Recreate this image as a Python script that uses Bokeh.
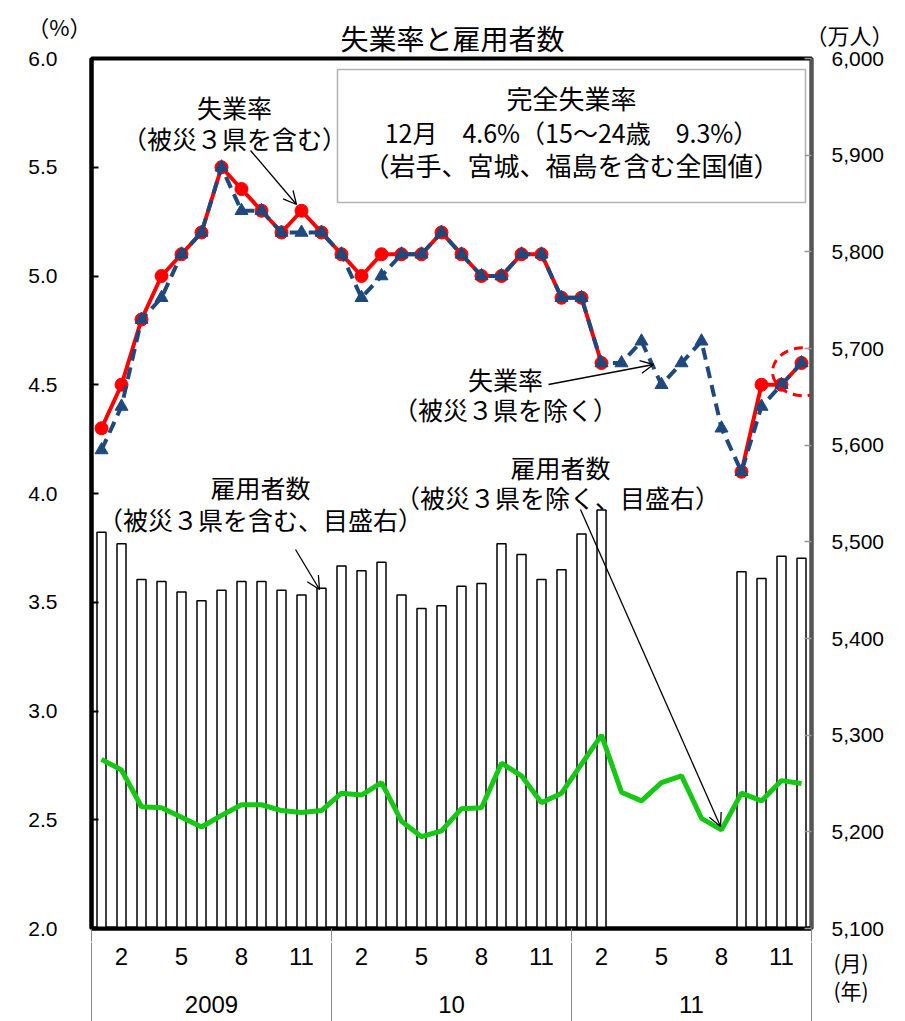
import math
from bokeh.plotting import figure
from bokeh.layouts import column
from bokeh.models import (Range1d, LinearAxis, FixedTicker, PrintfTickFormatter,
                          NumeralTickFormatter, CustomJSTickFormatter, Label, Arrow,
                          OpenHead, BoxAnnotation)
from bokeh.core.properties import value
from bokeh.embed import file_html
from bokeh.resources import INLINE

nan = float("nan")

# ---------------- data ----------------
years = ["2009", "10", "11"]
month_numbers = list(range(1, 13)) * 3
month_tick_labels = [2, 5, 8, 11]
unit_labels = ["(月)", "(年)"]
left_unit = "（%）"
right_unit = "（万人）"
title_text = "失業率と雇用者数"

# 完全失業率（被災３県を含む） %
rate_incl = [4.3, 4.5, 4.8, 5.0, 5.1, 5.2, 5.5, 5.4, 5.3, 5.2, 5.3, 5.2,
             5.1, 5.0, 5.1, 5.1, 5.1, 5.2, 5.1, 5.0, 5.0, 5.1, 5.1, 4.9,
             4.9, 4.6, nan, nan, nan, nan, nan, nan, 4.1, 4.5, 4.5, 4.6]
# 完全失業率（被災３県を除く） %
rate_excl = [4.2, 4.4, 4.8, 4.9, 5.1, 5.2, 5.5, 5.3, 5.3, 5.2, 5.2, 5.2,
             5.1, 4.9, 5.0, 5.1, 5.1, 5.2, 5.1, 5.0, 5.0, 5.1, 5.1, 4.9,
             4.9, 4.6, 4.6, 4.7, 4.5, 4.6, 4.7, 4.3, 4.1, 4.4, 4.5, 4.6]
# 雇用者数（被災３県を含む） 万人
emp_incl = [5510, 5498, 5461, 5459, 5448, 5439, 5450, 5459, 5459, 5450, 5445, 5452,
            5475, 5470, 5479, 5445, 5431, 5434, 5454, 5457, 5498, 5487, 5461, 5471,
            5508, 5533, nan, nan, nan, nan, nan, nan, 5469, 5462, 5485, 5483]
# 雇用者数（被災３県を除く） 万人
emp_excl = [5275, 5264, 5226, 5225, 5215, 5205, 5217, 5228, 5228, 5222, 5220, 5222,
            5240, 5238, 5251, 5211, 5195, 5201, 5224, 5225, 5271, 5258, 5230, 5240,
            5270, 5300, 5241, 5232, 5251, 5258, 5214, 5202, 5240, 5232, 5253, 5250]

left_ticks = [2.0, 2.5, 3.0, 3.5, 4.0, 4.5, 5.0, 5.5, 6.0]
right_ticks = [5100, 5200, 5300, 5400, 5500, 5600, 5700, 5800, 5900, 6000]

# ---------------- layout constants ----------------
W = 905
FL, FT, FW, FH = 91, 58, 720, 870
FB = FT + FH
TOP_H = FT                   # header strip reaches the frame top
BT = 14                      # top border of main plot (overlaps the header)
BB = 14                      # bottom border of main plot
BOT_TOP = FB + BB
BOT_H = 1021 - BOT_TOP

def X(px):
    return (px - FL) / FW * 36.0
def Y(py):
    return 6.0 - (py - FT) / FH * 4.0

JP = "Noto Sans CJK JP"
NUM = "Liberation Sans"
NARROW = "Liberation Sans Narrow, Liberation Sans"

def bare(fig):
    fig.grid.visible = False
    fig.outline_line_color = None
    fig.background_fill_color = "white"
    fig.border_fill_color = "white"
    return fig

def strip_axis(ax, ticks, labels, standoff, font, size):
    ax.ticker = FixedTicker(ticks=ticks)
    ax.major_label_overrides = dict(zip(ticks, labels))
    ax.major_tick_line_color = None
    ax.minor_tick_line_color = None
    ax.major_tick_in = 0
    ax.major_tick_out = 0
    ax.major_label_standoff = standoff
    ax.major_label_text_font = font
    ax.major_label_text_font_size = size
    ax.major_label_text_color = "black"

# ---------------- header strip ----------------
top = bare(figure(width=W, height=TOP_H, x_range=Range1d(0, 36), y_range=Range1d(TOP_H, 0),
                  x_axis_location=None, y_axis_location="left",
                  min_border_left=FL, min_border_right=W - FL - FW,
                  min_border_top=0, min_border_bottom=0,
                  output_backend="svg", toolbar_location=None))
strip_axis(top.yaxis[0], [25], [left_unit], 0, JP, "22px")
top.yaxis[0].axis_line_color = None
tr = LinearAxis()
strip_axis(tr, [33], [right_unit], -6, JP, "22px")
tr.axis_line_color = None
top.add_layout(tr, "right")
top.text(x=[X(452)], y=[37], text=[title_text], text_font=value(JP),
         text_font_size=value("28px"), text_align="center", text_baseline="middle",
         text_color="black")

# ---------------- main plot ----------------
p = figure(frame_width=FW, frame_height=FH,
           x_range=Range1d(0, 36), y_range=Range1d(2.0, 6.0),
           output_backend="svg", toolbar_location=None,
           min_border_left=FL, min_border_top=BT, min_border_right=W - FL - FW,
           min_border_bottom=BB, margin=(-BT, 0, 0, 0))
bare(p)
p.border_fill_alpha = 0.0
p.extra_y_ranges = {"right": Range1d(5100, 6000)}
p.outline_line_color = "black"
p.outline_line_width = 4

ya = p.yaxis[0]
ya.ticker = FixedTicker(ticks=left_ticks)
ya.formatter = PrintfTickFormatter(format="%.1f")
ya.major_tick_in = 7
ya.major_tick_out = 0
ya.minor_tick_line_color = None
ya.major_tick_line_width = 2
ya.axis_line_width = 4
ya.axis_line_color = "black"
ya.major_label_standoff = 34
ya.major_label_text_font = NUM
ya.major_label_text_font_size = "21px"
ya.major_label_text_color = "black"

ra = LinearAxis(y_range_name="right", ticker=FixedTicker(ticks=right_ticks),
                formatter=NumeralTickFormatter(format="0,0"))
ra.major_tick_in = 7
ra.major_tick_out = 0
ra.minor_tick_line_color = None
ra.major_tick_line_color = "#999999"
ra.major_tick_line_width = 1.5
ra.axis_line_color = "#555555"
ra.axis_line_width = 3
ra.major_label_standoff = 20
ra.major_label_text_font = NUM
ra.major_label_text_font_size = "21px"
ra.major_label_text_color = "black"
p.add_layout(ra, "right")

xa = p.xaxis[0]
xa.ticker = FixedTicker(ticks=[0, 12, 24, 36])
xa.formatter = CustomJSTickFormatter(code="return ''")
xa.major_tick_in = 0
xa.major_tick_out = 13
xa.major_tick_line_color = "#888888"
xa.major_tick_line_width = 1
xa.minor_tick_line_color = None
xa.axis_line_width = 4
xa.axis_line_color = "black"
xa.major_label_standoff = 0
xa.major_label_text_font_size = "1px"

xs = [i + 0.5 for i in range(36)]

bx = [x for x, v in zip(xs, emp_incl) if not math.isnan(v)]
bt = [v for v in emp_incl if not math.isnan(v)]
p.vbar(x=bx, top=bt, bottom=5100, width=0.45, y_range_name="right",
       fill_color="white", line_color="black", line_width=1.5)

p.line(xs, emp_excl, y_range_name="right", line_color="#14C814", line_width=5)

p.line(xs, rate_incl, line_color="#FF0000", line_width=4)
rx = [x for x, v in zip(xs, rate_incl) if not math.isnan(v)]
ry = [v for v in rate_incl if not math.isnan(v)]
p.scatter(rx, ry, marker="circle", size=13, fill_color="#FF0000", line_color="#FF0000")

p.line(xs, rate_excl, line_color="#1F497D", line_width=4, line_dash="12 7")
p.scatter(xs, rate_excl, marker="triangle", size=13, fill_color="#1F497D",
          line_color="#1F497D")

# highlight ellipse around the latest point
p.ellipse(x=[xs[-1] + 0.1], y=[rate_incl[-1] - 0.04], width=62, height=48,
          width_units="screen", height_units="screen", fill_color=None,
          line_color="#FF0000", line_width=3, line_dash="9 6")

def lab(text, px, py, size):
    p.add_layout(Label(x=X(px), y=Y(py), text=text, text_font=JP,
                       text_font_size=f"{size}px", text_align="center",
                       text_baseline="middle", text_color="black"))

p.add_layout(BoxAnnotation(left=X(337), right=X(805), top=Y(69), bottom=Y(202),
                           fill_color="white", fill_alpha=1.0,
                           line_color="black", line_width=1.5))
lab("完全失業率", 571, 97, 26)
lab("12月　4.6%（15～24歳　9.3%）", 571, 131, 25)
lab("（岩手、宮城、福島を含む全国値）", 571, 164, 26)

lab("失業率", 234, 106, 25)
lab("（被災３県を含む）", 234, 137, 25)
lab("失業率", 505, 378, 25)
lab("（被災３県を除く）", 505, 408, 25)
lab("雇用者数", 260, 486, 25)
lab("（被災３県を含む、目盛右）", 260, 518, 25)
lab("雇用者数", 560, 466, 25)
lab("（被災３県を除く、目盛右）", 557, 496, 25)

def arrow(x0, y0, x1, y1):
    p.add_layout(Arrow(end=OpenHead(size=13, line_width=1.3, line_color="black"),
                       x_start=X(x0), y_start=Y(y0), x_end=X(x1), y_end=Y(y1),
                       line_width=1.3, line_color="black"))

arrow(250, 150, 296, 204)
arrow(548, 384, 653, 364)
arrow(295, 549, 319, 589)
arrow(580, 509, 720, 826)

# ---------------- footer strip (month / year axis) ----------------
bot = bare(figure(width=W, height=BOT_H, x_range=Range1d(0, 36), y_range=Range1d(BOT_H, 0),
                  x_axis_location=None, y_axis_location="left",
                  min_border_left=FL, min_border_right=W - FL - FW,
                  min_border_top=0, min_border_bottom=0,
                  output_backend="svg", toolbar_location=None))
strip_axis(bot.yaxis[0], [], [], 0, NUM, "1px")
bot.yaxis[0].axis_line_color = "#888888"
bot.yaxis[0].axis_line_width = 1
br = LinearAxis()
strip_axis(br, [961 - BOT_TOP, 989 - BOT_TOP], unit_labels, 22,
           "Liberation Sans Narrow, Noto Sans CJK JP", "21px")
br.axis_line_color = "#888888"
br.axis_line_width = 1
bot.add_layout(br, "right")

seps = [12, 24]
bot.segment(x0=seps, y0=[0] * len(seps), x1=seps, y1=[BOT_H] * len(seps),
            line_color="#888888", line_width=1)
mx, mt = [], []
for k in range(len(years)):
    for m in month_tick_labels:
        mx.append(k * 12 + m - 0.5)
        mt.append(str(m))
bot.text(x=mx, y=[956 - BOT_TOP] * len(mx), text=mt, text_font=value(NARROW),
         text_font_size=value("24px"), text_align="center", text_baseline="middle",
         text_color="black")
bot.text(x=[k * 12 + 6 for k in range(len(years))], y=[1004 - BOT_TOP] * len(years),
         text=years, text_font=value(NARROW), text_font_size=value("24px"),
         text_align="center", text_baseline="middle", text_color="black")

layout = column(top, p, bot, spacing=0)
open("out.html", "w").write(file_html(layout, INLINE))
